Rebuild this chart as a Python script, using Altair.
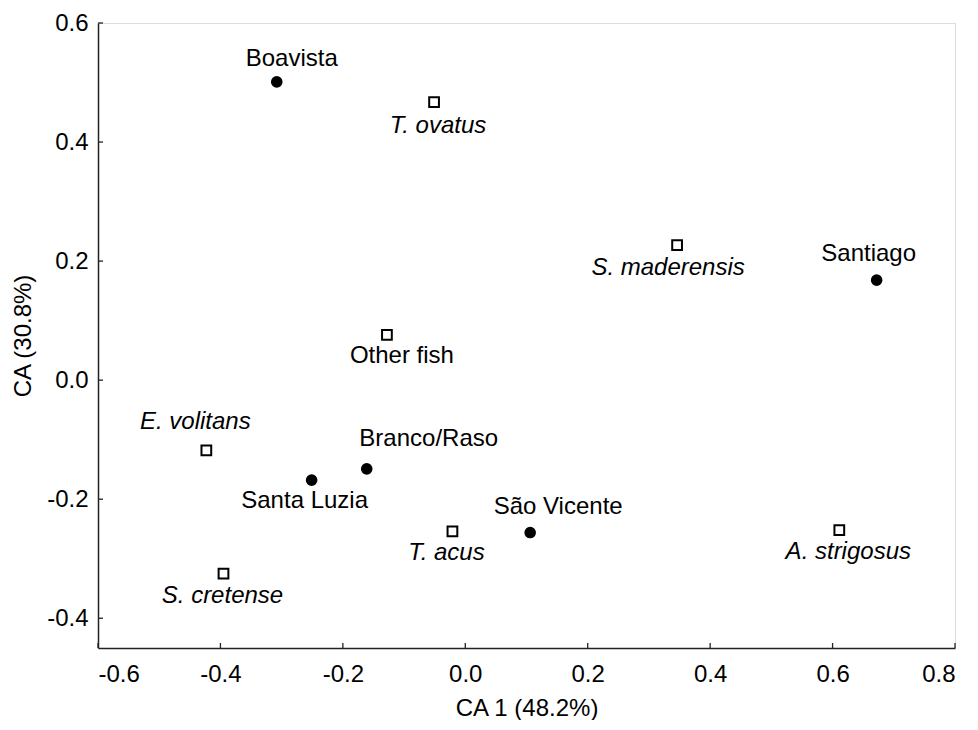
import altair as alt
import pandas as pd

# ---- data ----
site_names = ["Boavista", "Santiago", "São Vicente", "Santa Luzia", "Branco/Raso"]
site_x = [-0.308, 0.672, 0.106, -0.251, -0.161]
site_y = [0.501, 0.168, -0.256, -0.168, -0.149]

prey_names = ["T. ovatus", "S. maderensis", "Other fish", "T. acus",
              "A. strigosus", "E. volitans", "S. cretense"]
prey_x = [-0.051, 0.346, -0.128, -0.021, 0.611, -0.423, -0.395]
prey_y = [0.467, 0.227, 0.076, -0.254, -0.252, -0.118, -0.325]

x_ticks = [-0.6, -0.4, -0.2, 0.0, 0.2, 0.4, 0.6, 0.8]
y_ticks = [-0.4, -0.2, 0.0, 0.2, 0.4, 0.6]

x_title = "CA 1 (48.2%)"
y_title = "CA (30.8%)"

# ---- layout (label offsets in pixels) ----
label_offsets = {
    "Boavista": (15, -23), "Santiago": (-8, -26), "São Vicente": (28, -26),
    "Santa Luzia": (-7, 21), "Branco/Raso": (62, -30),
    "T. ovatus": (4, 24), "S. maderensis": (-9, 23), "Other fish": (15, 21),
    "T. acus": (-6, 22), "A. strigosus": (9, 22), "E. volitans": (-11, -28),
    "S. cretense": (-1, 22),
}
upright = set(site_names) | {"Other fish"}

W, H = 857, 625
FONT = "Liberation Sans"
FS = 24

sites = pd.DataFrame({"name": site_names, "x": site_x, "y": site_y, "kind": "site"})
prey = pd.DataFrame({"name": prey_names, "x": prey_x, "y": prey_y, "kind": "prey"})
pts = pd.concat([sites, prey], ignore_index=True)

xscale = alt.Scale(domain=[-0.6, 0.8], nice=False, zero=False)
yscale = alt.Scale(domain=[-0.45, 0.6], nice=False, zero=False)

lab_expr = "datum.value < 0 ? '-' + format(-datum.value, '.1f') : format(datum.value, '.1f')"

xaxis = alt.Axis(values=x_ticks, labelExpr=lab_expr, ticks=False, grid=False,
                 domainColor="#222", domainWidth=1.5, labelFont=FONT, labelFontSize=FS,
                 labelColor="black", labelPadding=14, titleFont=FONT, titleFontSize=FS,
                 titleFontWeight="normal", titleColor="black", titlePadding=10)
yaxis = alt.Axis(values=y_ticks, labelExpr=lab_expr, ticks=False, grid=False,
                 domainColor="#222", domainWidth=1.5, labelFont=FONT, labelFontSize=FS,
                 labelColor="black", labelPadding=10, titleFont=FONT, titleFontSize=FS,
                 titleFontWeight="normal", titleColor="black", titlePadding=11)

X = alt.X("x:Q", scale=xscale, axis=xaxis, title=x_title)
Y = alt.Y("y:Q", scale=yscale, axis=yaxis, title=y_title)

base = alt.Chart(pts)

site_pts = base.transform_filter(alt.datum.kind == "site").mark_point(
    shape="circle", filled=True, color="black", size=135, opacity=1
).encode(x=X, y=Y)

prey_pts = base.transform_filter(alt.datum.kind == "prey").mark_point(
    shape="square", filled=False, color="black", size=95, strokeWidth=2, opacity=1
).encode(x=X, y=Y)

label_layers = []
for nm, (dx, dy) in label_offsets.items():
    label_layers.append(
        base.transform_filter(alt.datum.name == nm).mark_text(
            font=FONT, fontSize=FS, color="black", align="center", baseline="middle",
            dx=dx, dy=dy, fontStyle="normal" if nm in upright else "italic"
        ).encode(x=X, y=Y, text="name:N")
    )

xt = alt.Chart(pd.DataFrame({"x": x_ticks})).mark_rule(color="#222", strokeWidth=1.3).encode(
    x=X, y=alt.value(H), y2=alt.value(H - 5)
)
yt = alt.Chart(pd.DataFrame({"y": y_ticks})).mark_rule(color="#222", strokeWidth=1.3).encode(
    y=Y, x=alt.value(0), x2=alt.value(5)
)

chart = alt.layer(site_pts, prey_pts, xt, yt, *label_layers).properties(
    width=W, height=H,
    padding={"left": 90, "top": 15, "right": 15, "bottom": 72},
    autosize=alt.AutoSizeParams(type="none"),
).configure_view(stroke=None).configure(background="white")

chart.save("out.html", embed_options={"renderer": "svg", "actions": False})
